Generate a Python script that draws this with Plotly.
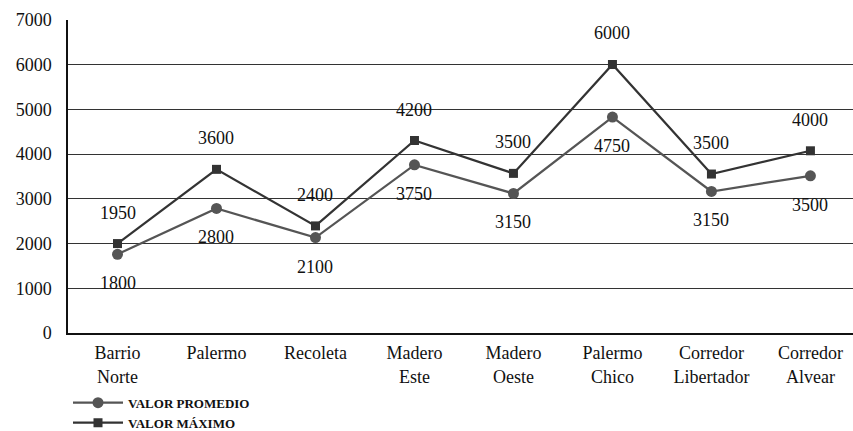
import plotly.graph_objects as go

categories = ["Barrio<br>Norte", "Palermo", "Recoleta", "Madero<br>Este", "Madero<br>Oeste",
              "Palermo<br>Chico", "Corredor<br>Libertador", "Corredor<br>Alvear"]
# plotted positions
promedio = [1760, 2785, 2135, 3760, 3120, 4830, 3165, 3515]
maximo = [2000, 3660, 2395, 4305, 3570, 6005, 3555, 4075]
# data labels as printed
promedio_labels = ["1800", "2800", "2100", "3750", "3150", "4750", "3150", "3500"]
maximo_labels = ["1950", "3600", "2400", "4200", "3500", "6000", "3500", "4000"]
y_ticks = [0, 1000, 2000, 3000, 4000, 5000, 6000, 7000]

FONT = "'Liberation Serif', 'DejaVu Serif', serif"
FS = 18

fig = go.Figure()
fig.add_trace(go.Scatter(
    x=categories, y=promedio, name="VALOR PROMEDIO", mode="lines+markers",
    line=dict(color="#555555", width=2.2),
    marker=dict(symbol="circle", size=11, color="#555555"),
))
fig.add_trace(go.Scatter(
    x=categories, y=maximo, name="VALOR MÁXIMO", mode="lines+markers",
    line=dict(color="#333333", width=2.2),
    marker=dict(symbol="square", size=9, color="#333333"),
))

for c, v, t in zip(categories, maximo, maximo_labels):
    fig.add_annotation(x=c, y=v, text=t, showarrow=False, yshift=31,
                       font=dict(family=FONT, size=FS, color="#111111"))
for c, v, t in zip(categories, promedio, promedio_labels):
    fig.add_annotation(x=c, y=v, text=t, showarrow=False, yshift=-29,
                       font=dict(family=FONT, size=FS, color="#111111"))

fig.update_layout(
    width=853, height=431,
    margin=dict(l=68, r=0, t=20, b=98, autoexpand=False),
    paper_bgcolor="white", plot_bgcolor="white",
    font=dict(family=FONT, size=FS, color="#111111"),
    showlegend=True,
    legend=dict(
        x=0.0, xanchor="left", y=-0.175, yanchor="top",
        orientation="v", tracegroupgap=0, itemwidth=50,
        font=dict(family=FONT, size=13, color="#111111", weight="bold"),
        bgcolor="rgba(0,0,0,0)",
    ),
)
fig.update_xaxes(
    type="category", range=[-0.5, 7.43], showgrid=False, automargin=False,
    showline=True, linecolor="#111111", linewidth=1.5,
    ticks="", tickfont=dict(family=FONT, size=FS, color="#111111"),
    ticklabelstandoff=3,
)
fig.update_yaxes(
    range=[0, 7000], tickvals=y_ticks, showgrid=True, gridcolor="#333333", gridwidth=1,
    showline=True, linecolor="#111111", linewidth=1.5, zeroline=False, automargin=False,
    ticks="", tickfont=dict(family=FONT, size=FS, color="#111111"),
    ticklabelstandoff=11,
)

fig.write_html(
    "out.html",
    config={"displayModeBar": False},
    post_script="document.body.style.margin='0';document.body.style.overflow='hidden';",
)
